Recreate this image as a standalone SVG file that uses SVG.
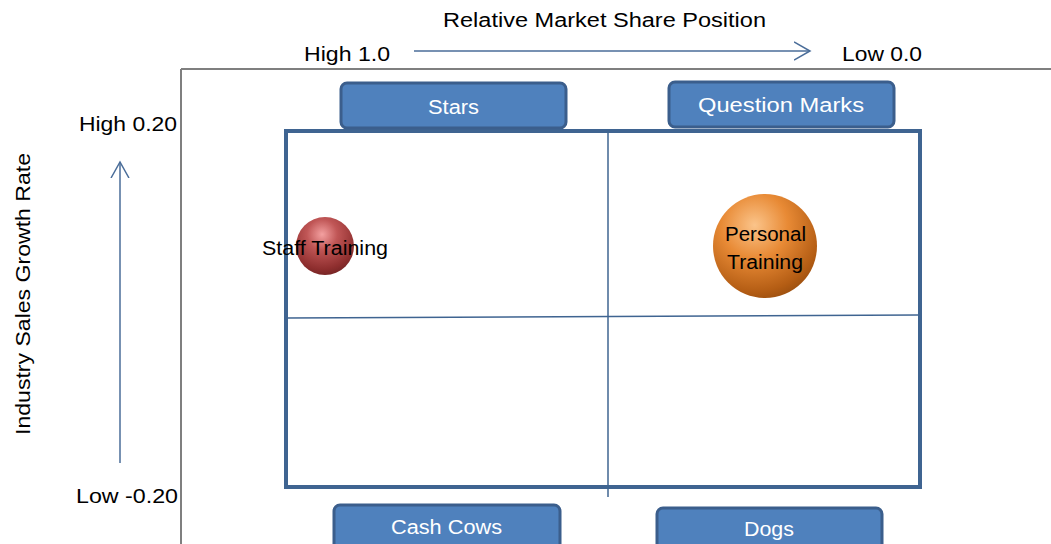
<svg xmlns="http://www.w3.org/2000/svg" width="1051" height="544" viewBox="0 0 1051 544">
  <style>
    .lbl { font-family: "Liberation Sans", Arial, sans-serif; font-size: 20px; fill: #000; }
    .tag rect { fill: #4f81bd; stroke: #3b5e8c; stroke-width: 3; }
    .tag text { font-family: "Liberation Sans", Arial, sans-serif; font-size: 20px; fill: #fff; text-anchor: middle; }
    .axis { stroke: #4a6d99; stroke-width: 1.5; fill: none; }
    .grid { stroke: #3f6491; fill: none; }
  </style>
  <defs>
    <marker id="open" viewBox="0 0 18 20" refX="16" refY="10" markerWidth="18" markerHeight="20" markerUnits="userSpaceOnUse" orient="auto">
      <path d="M0,1 L16,10 L0,19" fill="none" stroke="#4a6d99" stroke-width="1.5"/>
    </marker>
    <radialGradient id="redBall" cx="0.45" cy="0.3" r="0.75">
      <stop offset="0" stop-color="#f3a0a0"/>
      <stop offset="0.35" stop-color="#c05656"/>
      <stop offset="0.8" stop-color="#8e2e2e"/>
      <stop offset="1" stop-color="#6e2222"/>
    </radialGradient>
    <radialGradient id="orangeBall" cx="0.4" cy="0.3" r="0.8">
      <stop offset="0" stop-color="#fbc48a"/>
      <stop offset="0.4" stop-color="#e88a35"/>
      <stop offset="0.8" stop-color="#b45d14"/>
      <stop offset="1" stop-color="#8d470c"/>
    </radialGradient>
  </defs>

  <rect width="1051" height="544" fill="#fff"/>

  <!-- chart frame -->
  <g id="frame">
    <line x1="181" y1="69" x2="1051" y2="69" stroke="#7f7f7f" stroke-width="2"/>
    <line x1="181" y1="69" x2="181" y2="544" stroke="#7f7f7f" stroke-width="2"/>
  </g>

  <!-- axis titles and scale -->
  <g id="axes">
    <text class="lbl" x="443" y="27" textLength="323" lengthAdjust="spacingAndGlyphs">Relative Market Share Position</text>
    <text class="lbl" x="304" y="61" textLength="86" lengthAdjust="spacingAndGlyphs">High 1.0</text>
    <text class="lbl" x="842" y="61" textLength="80" lengthAdjust="spacingAndGlyphs">Low 0.0</text>
    <text class="lbl" x="79" y="131" textLength="98" lengthAdjust="spacingAndGlyphs">High 0.20</text>
    <text class="lbl" x="76" y="503" textLength="102" lengthAdjust="spacingAndGlyphs">Low -0.20</text>
    <text class="lbl" transform="translate(30,435) rotate(-90)" textLength="282" lengthAdjust="spacingAndGlyphs">Industry Sales Growth Rate</text>
  </g>

  <!-- connectors -->
  <g id="connectors">
    <line class="axis" x1="414" y1="51" x2="810" y2="51" marker-end="url(#open)"/>
    <line class="axis" x1="120" y1="463" x2="120" y2="162" marker-end="url(#open)"/>
  </g>

  <!-- quadrant grid -->
  <g id="grid">
    <rect class="grid" x="286" y="131" width="634" height="356" stroke-width="4"/>
    <line class="grid" x1="608" y1="131" x2="608" y2="497" stroke-width="1.5"/>
    <line class="grid" x1="287" y1="318" x2="918" y2="315" stroke-width="1.5"/>
  </g>

  <!-- quadrant labels -->
  <g id="stars" class="tag">
    <rect x="341" y="83" width="225" height="45" rx="6"/>
    <text x="453.5" y="114" textLength="51" lengthAdjust="spacingAndGlyphs">Stars</text>
  </g>
  <g id="question-marks" class="tag">
    <rect x="669" y="82" width="225" height="45" rx="6"/>
    <text x="781" y="112" textLength="166" lengthAdjust="spacingAndGlyphs">Question Marks</text>
  </g>
  <g id="cash-cows" class="tag">
    <rect x="334" y="505" width="226" height="45" rx="6"/>
    <text x="446.5" y="534" textLength="111" lengthAdjust="spacingAndGlyphs">Cash Cows</text>
  </g>
  <g id="dogs" class="tag">
    <rect x="657" y="508" width="225" height="45" rx="6"/>
    <text x="769" y="536" textLength="50" lengthAdjust="spacingAndGlyphs">Dogs</text>
  </g>

  <!-- products -->
  <g id="staff-training">
    <circle cx="325" cy="246" r="29" fill="url(#redBall)"/>
    <text class="lbl" x="325" y="255" text-anchor="middle" font-size="18" textLength="126" lengthAdjust="spacingAndGlyphs">Staff Training</text>
  </g>
  <g id="personal-training">
    <circle cx="765" cy="246" r="52" fill="url(#orangeBall)"/>
    <text class="lbl" x="765.5" y="241" text-anchor="middle" textLength="81" lengthAdjust="spacingAndGlyphs">Personal</text>
    <text class="lbl" x="765" y="269" text-anchor="middle" textLength="76" lengthAdjust="spacingAndGlyphs">Training</text>
  </g>
</svg>
